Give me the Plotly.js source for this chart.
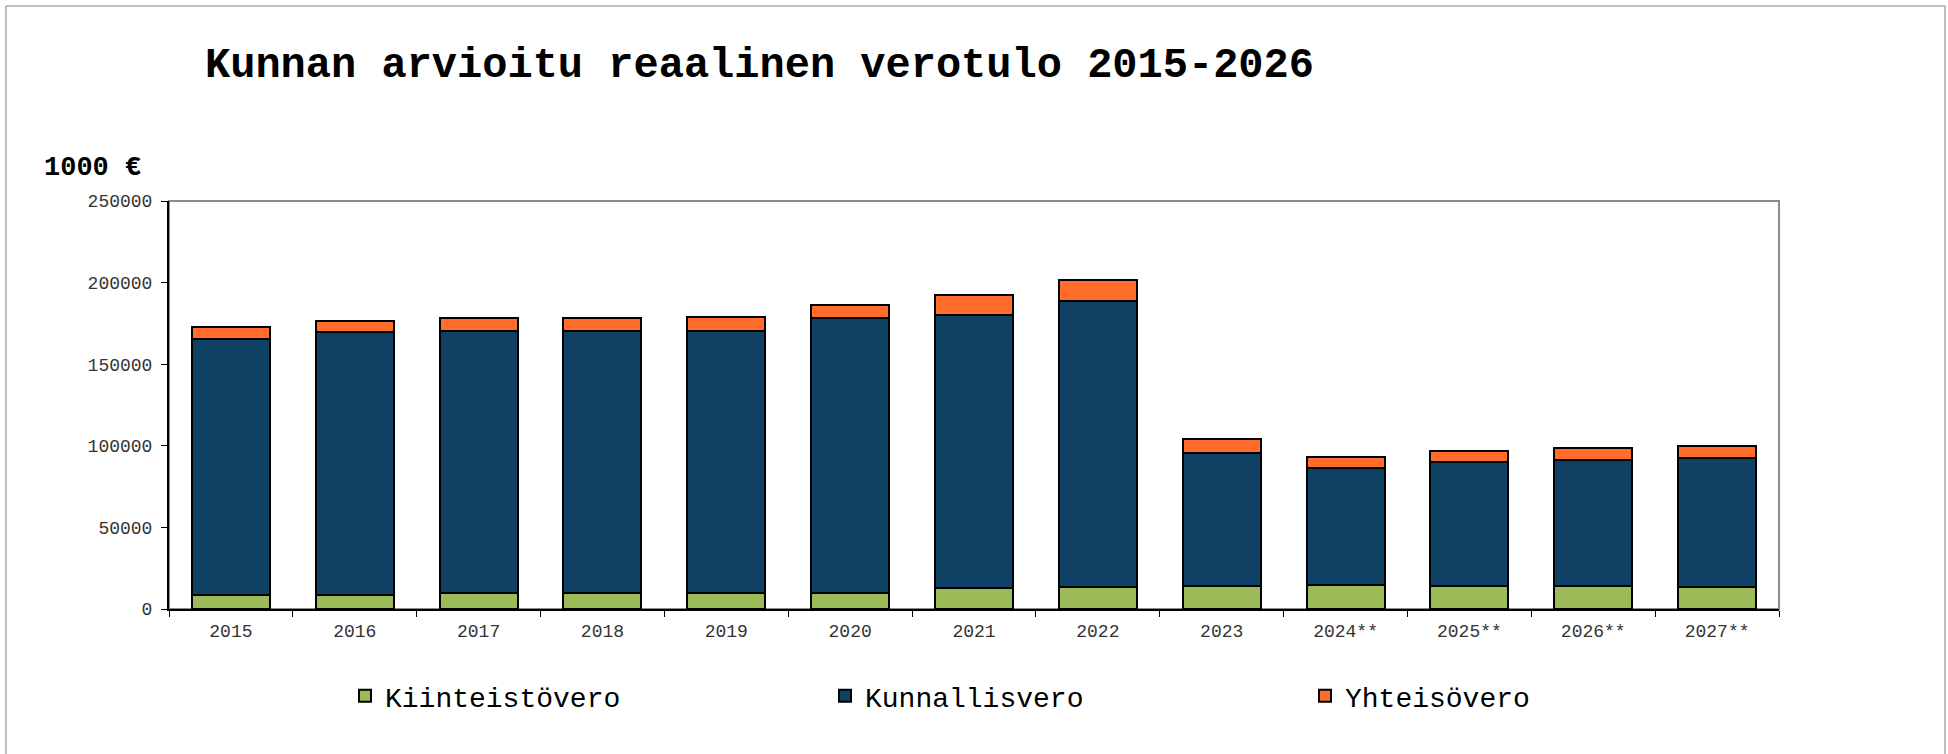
<!DOCTYPE html>
<html>
<head>
<meta charset="utf-8">
<script src="https://cdn.plot.ly/plotly-3.0.1.min.js"></script>
<style>
html,body{margin:0;padding:0;background:#fff;}
#chart{width:1948px;height:754px;}
</style>
</head>
<body>
<div id="chart"></div>
<script>
const categories = ["2015","2016","2017","2018","2019","2020","2021","2022","2023","2024**","2025**","2026**","2027**"];
const kiinteistovero = [8400, 8600, 9800, 10000, 10000, 9800, 12700, 13700, 14100, 14500, 14300, 13900, 13700];
const kunnallisvero = [156900, 161150, 160750, 160340, 160540, 168300, 167690, 175250, 81700, 71690, 75780, 77410, 78840];
const yhteisovero = [7350, 6740, 7960, 7970, 8370, 8370, 12260, 12670, 8580, 7150, 6740, 7150, 7150];
const seriesNames = ["Kiinteistövero", "Kunnallisvero", "Yhteisövero"];
const colors = ["#9BBB59", "#0F4164", "#FF6C2C"];

const mono = "'Liberation Mono', 'Courier New', monospace";
const allSeries = [kiinteistovero, kunnallisvero, yhteisovero];
const traces = allSeries.map((vals, i) => ({
  type: "bar",
  name: seriesNames[i],
  x: categories,
  y: vals,
  marker: {color: colors[i], line: {color: "#000", width: 2}},
  hoverinfo: "x+y+name"
}));

const L = 169, R = 169, T = 201, B = 145;
const W = 1948, H = 754;
const pw = W - L - R, ph = H - T - B;
const px = v => (v - L) / pw;
const py = v => (H - B - v) / ph;

const layout = {
  width: W, height: H,
  margin: {l: L, r: R, t: T, b: B, pad: 0},
  barmode: "stack",
  bargap: 0.37,
  paper_bgcolor: "#fff",
  plot_bgcolor: "#fff",
  showlegend: true,
  title: {
    text: "<b>Kunnan arvioitu reaalinen verotulo 2015-2026</b>",
    font: {family: mono, size: 42, color: "#000"},
    x: 205 / W, xanchor: "left", xref: "container",
    y: 1 - 62 / H, yanchor: "middle", yref: "container"
  },
  xaxis: {
    type: "category",
    showline: true, linecolor: "#000", linewidth: 2,
    ticks: "outside", tickson: "boundaries", ticklen: 6, tickcolor: "#000", tickwidth: 1,
    tickfont: {family: mono, size: 18, color: "#333"},
    ticklabelstandoff: 4,
    showgrid: false, zeroline: false, fixedrange: true
  },
  yaxis: {
    range: [0, 250000], dtick: 50000, tickformat: "d",
    showline: true, linecolor: "#000", linewidth: 2,
    ticks: "outside", ticklen: 6, tickcolor: "#000", tickwidth: 1,
    tickfont: {family: mono, size: 18, color: "#333"},
    ticklabelstandoff: 5,
    showgrid: false, zeroline: false, fixedrange: true
  },
  legend: {
    orientation: "h",
    x: px(345), xanchor: "left",
    y: py(696), yanchor: "middle",
    font: {family: mono, size: 28, color: "#000"},
    entrywidth: 435, entrywidthmode: "pixels",
    traceorder: "normal",
    itemwidth: 30,
    bgcolor: "rgba(0,0,0,0)"
  },
  annotations: [{
    text: "<b>1000 €</b>",
    xref: "paper", yref: "paper",
    x: px(42), xanchor: "left",
    y: py(168), yanchor: "middle",
    showarrow: false,
    font: {family: mono, size: 27, color: "#000"}
  }],
  shapes: [
    {type: "rect", xref: "paper", yref: "paper", x0: 0, x1: 1, y0: 0, y1: 1,
     line: {color: "#8c8c8c", width: 2}, layer: "below"},
    {type: "rect", xref: "paper", yref: "paper", x0: px(6), x1: px(1945), y0: py(770), y1: py(6),
     line: {color: "#808080", width: 1}, layer: "below"}
  ]
};

Plotly.newPlot("chart", traces, layout, {displayModeBar: false, staticPlot: true});
</script>
</body>
</html>
